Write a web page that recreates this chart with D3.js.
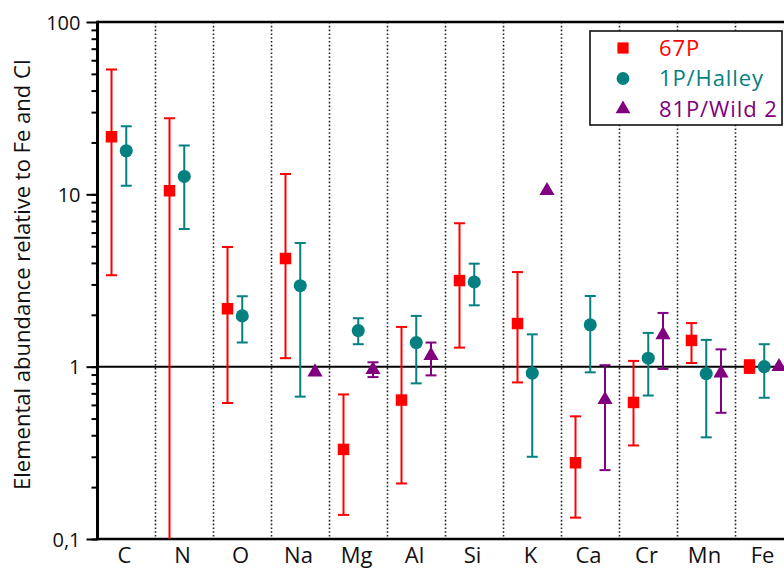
<!DOCTYPE html>
<html>
<head>
<meta charset="utf-8">
<script src="https://cdn.jsdelivr.net/npm/d3@7"></script>
<style>
  body { margin: 0; background: #fff; }
  text { font-family: "Open Sans", sans-serif; }
</style>
</head>
<body>
<svg id="chart" width="784" height="570"></svg>
<script>
// 元素与数据（相对于 Fe 和 CI 的丰度）
const elements = ["C", "N", "O", "Na", "Mg", "Al", "Si", "K", "Ca", "Cr", "Mn", "Fe"];
const seriesNames = ["67P", "1P/Halley", "81P/Wild 2"];

const val67P = [21.6, 10.5, 2.17, 4.24, 0.331, 0.64, 3.16, 1.78, 0.277, 0.62, 1.42, 1.0];
const lo67P  = [3.39, 0.01, 0.615, 1.12, 0.138, 0.21, 1.29, 0.81, 0.133, 0.349, 1.05, 0.92];
const hi67P  = [53, 27.6, 4.94, 13.1, 0.69, 1.70, 6.79, 3.54, 0.515, 1.08, 1.79, 1.09];

const valHalley = [17.9, 12.7, 1.97, 2.95, 1.62, 1.38, 3.1, 0.918, 1.75, 1.12, 0.91, 1.0];
const loHalley  = [11.2, 6.29, 1.38, 0.67, 1.35, 0.80, 2.27, 0.30, 0.927, 0.68, 0.389, 0.66];
const hiHalley  = [24.8, 19.2, 2.56, 5.22, 1.91, 1.97, 3.96, 1.54, 2.57, 1.57, 1.43, 1.35];

const valWild2 = [null, null, null, 0.93, 0.96, 1.16, null, 10.5, 0.643, 1.53, 0.918, 1.0];
const loWild2  = [null, null, null, null, 0.87, 0.89, null, null, 0.251, 0.97, 0.54, null];
const hiWild2  = [null, null, null, null, 1.06, 1.38, null, null, 1.02, 2.05, 1.26, null];

const yMajor = [0.1, 1, 10, 100];
const colors = ["#ff0000", "#058080", "#800080"];
const symbols = [d3.symbolSquare, d3.symbolCircle, d3.symbolTriangle];
const symSize = [132, 135, 100];

const svg = d3.select("#chart");
const plotLeft = 97.5, bandW = 58, plotTop = 22, plotBottom = 539;

const xScale = d3.scaleBand().domain(elements).range([plotLeft, plotLeft + bandW * elements.length]);
const offset = d3.scalePoint().domain(seriesNames).range([-15, 14.5]);
const yScale = d3.scaleLog().domain([0.1, 100]).range([plotBottom, plotTop]);

svg.append("defs").append("clipPath").attr("id", "plot-clip")
  .append("rect").attr("x", plotLeft).attr("y", plotTop).attr("width", 800).attr("height", plotBottom - plotTop);

// 分隔虚线
svg.append("g").selectAll("line")
  .data(elements.slice(1).concat(["_end"]))
  .enter().append("line")
  .attr("x1", (d, i) => plotLeft + bandW * (i + 1))
  .attr("x2", (d, i) => plotLeft + bandW * (i + 1))
  .attr("y1", plotTop).attr("y2", plotBottom)
  .style("stroke", "#222").style("stroke-width", 1.6)
  .style("stroke-dasharray", "1.6,2.2");

// y=1 参考线
svg.append("line")
  .attr("x1", plotLeft).attr("x2", 784)
  .attr("y1", yScale(1)).attr("y2", yScale(1))
  .style("stroke", "black").style("stroke-width", 2);

// 坐标轴
const minorTicks = [];
[0.1, 1, 10].forEach(d => { for (let k = 1; k < 10; k++) minorTicks.push(d * k); });
svg.append("g").attr("transform", `translate(${plotLeft},0)`)
  .call(d3.axisLeft(yScale).tickValues(minorTicks).tickSize(6).tickFormat(""))
  .call(g => g.select(".domain").remove())
  .call(g => g.selectAll("line").style("stroke-width", 2));

svg.append("g").attr("transform", `translate(${plotLeft},0)`)
  .call(d3.axisLeft(yScale).tickValues(yMajor).tickSize(11).tickPadding(6)
    .tickFormat(d => String(d).replace(".", ",")))
  .call(g => g.select(".domain").remove())
  .call(g => g.selectAll("line").style("stroke-width", 2))
  .call(g => g.selectAll("text").style("font-size", "20px").style("fill", "#111")
    .attr("dy", "0.36em"));

svg.append("line").attr("x1", plotLeft).attr("x2", plotLeft).attr("y1", plotTop - 1.2).attr("y2", plotBottom + 1.2)
  .style("stroke", "black").style("stroke-width", 3);
svg.append("line").attr("x1", plotLeft).attr("x2", 784).attr("y1", plotTop).attr("y2", plotTop)
  .style("stroke", "black").style("stroke-width", 2.5);
svg.append("line").attr("x1", plotLeft).attr("x2", 784).attr("y1", plotBottom).attr("y2", plotBottom)
  .style("stroke", "black").style("stroke-width", 2.5);

// x 标签
svg.append("g").selectAll("text")
  .data(elements).enter().append("text")
  .attr("x", d => xScale(d) + bandW / 2 - 2)
  .attr("y", 563)
  .attr("text-anchor", "middle")
  .style("font-size", "22px").style("fill", "#111")
  .text(d => d);

// y 轴标题
svg.append("text")
  .attr("transform", "translate(30,274.5) rotate(-90)")
  .attr("text-anchor", "middle")
  .style("font-size", "22px").style("fill", "#111")
  .text("Elemental abundance relative to Fe and CI");

// 数据点与误差棒
const allSeries = [
  [val67P, lo67P, hi67P],
  [valHalley, loHalley, hiHalley],
  [valWild2, loWild2, hiWild2]
];
const plot = svg.append("g").attr("clip-path", "url(#plot-clip)");

allSeries.forEach((s, si) => {
  const pts = elements.map((e, i) => ({ e: e, v: s[0][i], lo: s[1][i], hi: s[2][i] }))
    .filter(d => d.v != null);
  const cx = d => xScale(d.e) + bandW / 2 + offset(seriesNames[si]);
  const g = plot.append("g");
  const eb = pts.filter(d => d.lo != null);

  g.selectAll(".eb").data(eb).enter().append("line")
    .attr("x1", cx).attr("x2", cx)
    .attr("y1", d => yScale(d.lo)).attr("y2", d => yScale(d.hi))
    .style("stroke", colors[si]).style("stroke-width", 2);
  g.selectAll(".cap-hi").data(eb).enter().append("line")
    .attr("x1", d => cx(d) - 5.5).attr("x2", d => cx(d) + 5.5)
    .attr("y1", d => yScale(d.hi)).attr("y2", d => yScale(d.hi))
    .style("stroke", colors[si]).style("stroke-width", 2);
  g.selectAll(".cap-lo").data(eb.filter(d => d.lo > 0.1)).enter().append("line")
    .attr("x1", d => cx(d) - 5.5).attr("x2", d => cx(d) + 5.5)
    .attr("y1", d => yScale(d.lo)).attr("y2", d => yScale(d.lo))
    .style("stroke", colors[si]).style("stroke-width", 2);

  g.selectAll(".mk").data(pts).enter().append("path")
    .attr("transform", d => `translate(${cx(d)},${yScale(d.v)})`)
    .attr("d", d3.symbol().type(symbols[si]).size(symSize[si]))
    .style("fill", colors[si]);
});

// 图例
const legend = svg.append("g");
legend.append("rect")
  .attr("x", 590).attr("y", 31).attr("width", 192).attr("height", 94)
  .style("fill", "white").style("stroke", "#111").style("stroke-width", 1.6);
seriesNames.forEach((name, i) => {
  const yy = 48 + i * 30.5;
  legend.append("path")
    .attr("transform", `translate(623,${yy})`)
    .attr("d", d3.symbol().type(symbols[i]).size(symSize[i] * 0.95))
    .style("fill", colors[i]);
  legend.append("text")
    .attr("x", 659).attr("y", yy).attr("dy", "0.36em")
    .style("font-size", "22px").style("letter-spacing", "0.9px").style("fill", colors[i])
    .text(name);
});
</script>
</body>
</html>
